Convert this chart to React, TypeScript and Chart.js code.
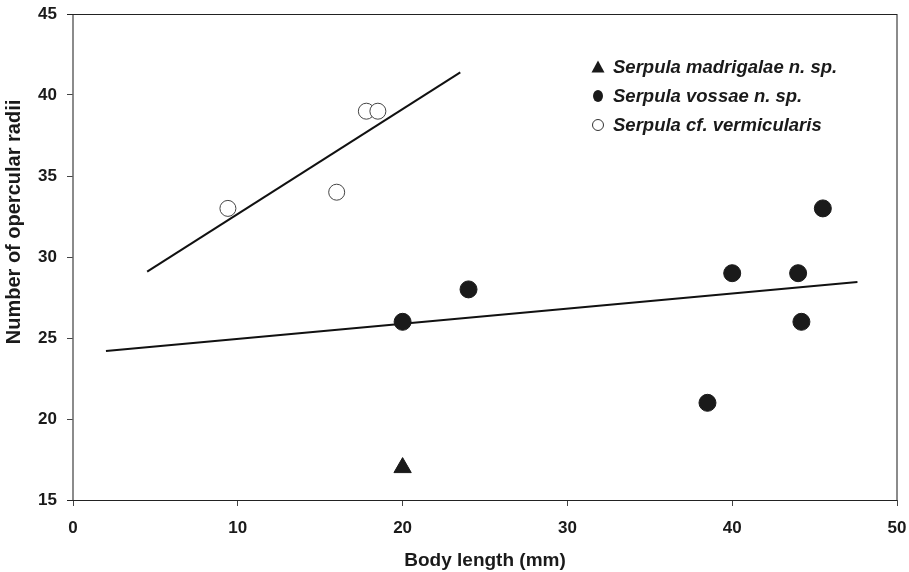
import React, { useEffect, useRef } from "react";
import { Chart, registerables } from "chart.js";

Chart.register(...registerables);

// ---- data ----
const seriesNames = [
  "Serpula madrigalae n. sp.",
  "Serpula vossae n. sp.",
  "Serpula cf. vermicularis",
];
const madrigalaeX = [20];
const madrigalaeY = [17];
const vossaeX = [20, 24, 38.5, 40, 44, 44.2, 45.5];
const vossaeY = [26, 28, 21, 29, 29, 26, 33];
const vermicularisX = [9.4, 16.0, 17.8, 18.5];
const vermicularisY = [33, 34, 39, 39];
const vermFitX = [4.5, 23.5];
const vermFitY = [29.1, 41.4];
const vossFitX = [2, 47.6];
const vossFitY = [24.2, 28.45];
const xAxisTitle = "Body length (mm)";
const yAxisTitle = "Number of opercular radii";
const xRange = [0, 50, 10];
const yRange = [15, 45, 5];

const FONT = "'Liberation Sans', Arial, Helvetica, sans-serif";

const pts = (xs: number[], ys: number[]) => xs.map((x, i) => ({ x, y: ys[i] }));

const zeroPad = (scale: any) => {
  scale.paddingLeft = 0;
  scale.paddingRight = 0;
  scale.paddingTop = 0;
  scale.paddingBottom = 0;
};

const decorPlugin = {
  id: "decor",
  afterDraw(chart: any) {
    const ctx = chart.ctx as CanvasRenderingContext2D;
    const { left, right, top, bottom } = chart.chartArea;
    ctx.save();
    // frame
    ctx.lineWidth = 1.5;
    ctx.strokeStyle = "#666";
    ctx.beginPath();
    ctx.moveTo(left, top);
    ctx.lineTo(left, bottom);
    ctx.moveTo(right, top);
    ctx.lineTo(right, bottom);
    ctx.stroke();
    ctx.lineWidth = 1.2;
    ctx.strokeStyle = "#222";
    ctx.beginPath();
    ctx.moveTo(left - 6, top + 0.5);
    ctx.lineTo(right, top + 0.5);
    ctx.moveTo(left - 6, bottom + 0.5);
    ctx.lineTo(right, bottom + 0.5);
    ctx.stroke();

    // y axis title
    ctx.fillStyle = "#1a1a1a";
    ctx.font = `bold 20px ${FONT}`;
    ctx.textAlign = "center";
    ctx.textBaseline = "middle";
    ctx.translate(14, 222);
    ctx.rotate(-Math.PI / 2);
    ctx.fillText(yAxisTitle, 0, 0);
    ctx.setTransform(1, 0, 0, 1, 0, 0);

    // legend
    const lx = 598;
    const tx = 613;
    const rows = [67, 96, 125];
    ctx.font = `italic bold 18.5px ${FONT}`;
    ctx.textAlign = "left";
    ctx.textBaseline = "middle";
    seriesNames.forEach((name, i) => {
      const y = rows[i];
      ctx.fillStyle = "#1a1a1a";
      ctx.strokeStyle = "#333";
      ctx.lineWidth = 1;
      ctx.beginPath();
      if (i === 0) {
        ctx.moveTo(lx, y - 6.5);
        ctx.lineTo(lx + 6.5, y + 5.5);
        ctx.lineTo(lx - 6.5, y + 5.5);
        ctx.closePath();
        ctx.fill();
      } else if (i === 1) {
        ctx.ellipse(lx, y, 5, 6, 0, 0, Math.PI * 2);
        ctx.fill();
      } else {
        ctx.arc(lx, y, 5.5, 0, Math.PI * 2);
        ctx.fillStyle = "#fff";
        ctx.fill();
        ctx.stroke();
      }
      ctx.fillStyle = "#1a1a1a";
      ctx.fillText(name, tx, y + 1);
    });
    ctx.restore();
  },
};

export default function App() {
  const ref = useRef<HTMLCanvasElement | null>(null);
  useEffect(() => {
    if (!ref.current) return;
    const chart = new Chart(ref.current, {
      type: "scatter",
      data: {
        datasets: [
          {
            label: seriesNames[0],
            data: pts(madrigalaeX, madrigalaeY),
            pointStyle: "triangle",
            pointRadius: 10,
            backgroundColor: "#1a1a1a",
            borderColor: "#1a1a1a",
            borderWidth: 1,
            order: 1,
          },
          {
            label: seriesNames[1],
            data: pts(vossaeX, vossaeY),
            pointStyle: "circle",
            pointRadius: 8.5,
            backgroundColor: "#1a1a1a",
            borderColor: "#1a1a1a",
            borderWidth: 1,
            order: 1,
          },
          {
            label: seriesNames[2],
            data: pts(vermicularisX, vermicularisY),
            pointStyle: "circle",
            pointRadius: 8,
            backgroundColor: "#fff",
            borderColor: "#444",
            borderWidth: 1,
            order: 1,
          },
          {
            type: "line",
            label: "fit vermicularis",
            data: pts(vermFitX, vermFitY),
            borderColor: "#111",
            borderWidth: 2,
            pointRadius: 0,
            showLine: true,
            fill: false,
            order: 2,
          } as any,
          {
            type: "line",
            label: "fit vossae",
            data: pts(vossFitX, vossFitY),
            borderColor: "#111",
            borderWidth: 2,
            pointRadius: 0,
            showLine: true,
            fill: false,
            order: 2,
          } as any,
        ],
      },
      options: {
        animation: false,
        responsive: false,
        maintainAspectRatio: false,
        devicePixelRatio: 1,
        layout: { padding: { top: 14, right: 12, left: 0, bottom: 0 } },
        plugins: {
          legend: { display: false },
          tooltip: { enabled: false },
        },
        scales: {
          x: {
            type: "linear",
            min: xRange[0],
            max: xRange[1],
            ticks: {
              stepSize: xRange[2],
              color: "#1a1a1a",
              font: { family: FONT, size: 17, weight: "bold" },
              padding: 12,
            },
            grid: {
              drawOnChartArea: false,
              drawTicks: true,
              tickLength: 6,
              color: "#444",
            },
            border: { display: false },
            title: {
              display: true,
              text: xAxisTitle,
              color: "#1a1a1a",
              font: { family: FONT, size: 19, weight: "bold" },
              padding: { top: 0, bottom: 0 },
            },
            afterFit(scale: any) {
              scale.height = 72;
              zeroPad(scale);
            },
          },
          y: {
            type: "linear",
            min: yRange[0],
            max: yRange[1],
            ticks: {
              stepSize: yRange[2],
              color: "#1a1a1a",
              font: { family: FONT, size: 17, weight: "bold" },
              padding: 10,
            },
            grid: {
              drawOnChartArea: false,
              drawTicks: true,
              tickLength: 6,
              color: "#444",
            },
            border: { display: false },
            afterFit(scale: any) {
              scale.width = 73;
              zeroPad(scale);
            },
          },
        },
      },
      plugins: [decorPlugin],
    } as any);
    return () => chart.destroy();
  }, []);
  return (
    <div style={{ position: "fixed", left: 0, top: 0, width: 909, height: 572, background: "#fff" }}>
      <canvas ref={ref} width={909} height={572} style={{ width: 909, height: 572, display: "block" }} />
    </div>
  );
}
